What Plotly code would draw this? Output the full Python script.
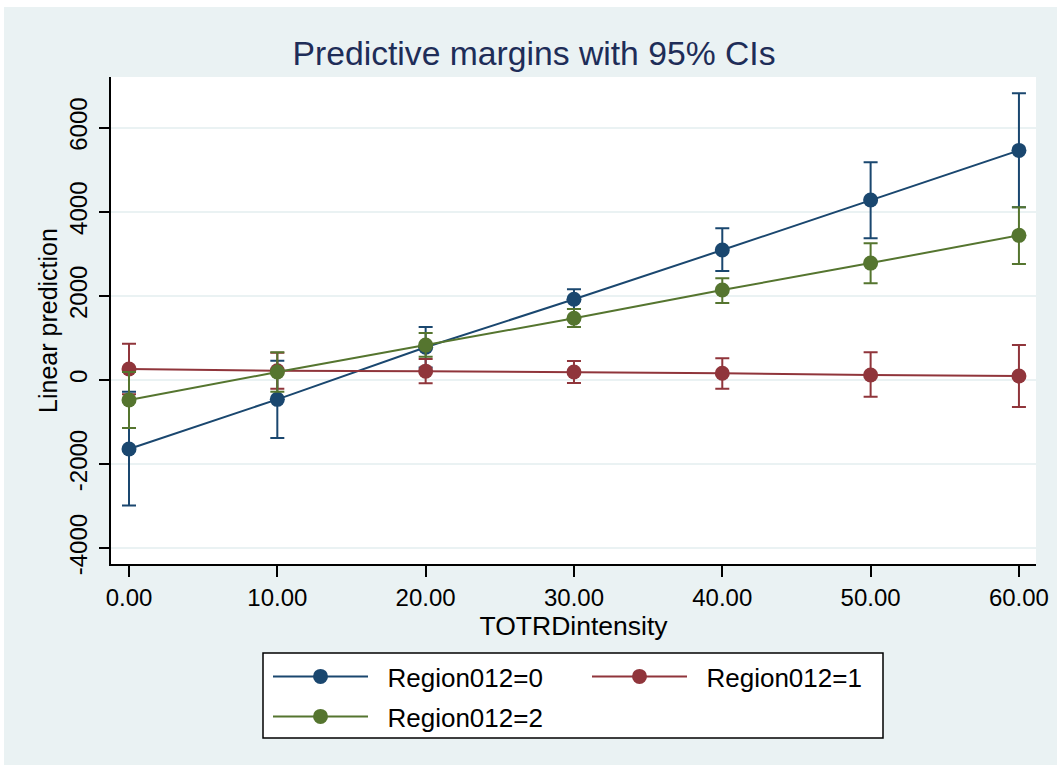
import plotly.graph_objects as go

x_vals = [0, 10, 20, 30, 40, 50, 60]
x_ticks = [0, 10, 20, 30, 40, 50, 60]
x_ticklabels = ["0.00", "10.00", "20.00", "30.00", "40.00", "50.00", "60.00"]
y_ticks = [-4000, -2000, 0, 2000, 4000, 6000]
y_ticklabels = ["-4000", "-2000", "0", "2000", "4000", "6000"]

names = ["Region012=0", "Region012=1", "Region012=2"]
r0_mean = [-1640, -460, 780, 1920, 3090, 4280, 5460]
r0_lo = [-2985, -1380, 300, 1690, 2590, 3370, 4110]
r0_hi = [-278, 460, 1260, 2160, 3610, 5180, 6820]
r1_mean = [260, 220, 210, 190, 160, 120, 95]
r1_lo = [-340, -210, -80, -70, -210, -400, -640]
r1_hi = [860, 650, 500, 450, 520, 660, 830]
r2_mean = [-475, 190, 830, 1470, 2140, 2780, 3440]
r2_lo = [-1140, -280, 550, 1260, 1830, 2300, 2760]
r2_hi = [190, 660, 1120, 1690, 2420, 3250, 4110]

colors = ["#1a476f", "#90353b", "#55752f"]

W, H = 1057, 770
L, R, T, B = 111, 1036, 77, 564


def px(xp):
    return (xp - L) / (R - L)


def py(yp):
    return (B - yp) / (B - T)


FONT = "Liberation Sans, Arial, sans-serif"

fig = go.Figure()
series = [(r0_mean, r0_lo, r0_hi), (r1_mean, r1_lo, r1_hi), (r2_mean, r2_lo, r2_hi)]
for i, (m, lo, hi) in enumerate(series):
    fig.add_trace(go.Scatter(
        x=x_vals, y=m, mode="lines+markers", name="&nbsp;&nbsp;" + names[i],
        line=dict(color=colors[i], width=2),
        marker=dict(color=colors[i], size=15, symbol="circle"),
        error_y=dict(type="data", symmetric=False,
                     array=[h - v for h, v in zip(hi, m)],
                     arrayminus=[v - l for v, l in zip(m, lo)],
                     color=colors[i], thickness=2, width=7),
        legend="legend" if i < 2 else "legend2",
    ))

fig.update_layout(
    width=W, height=H,
    margin=dict(l=L, r=W - R, t=T, b=H - B, pad=0, autoexpand=False),
    paper_bgcolor="#eaf2f3",
    plot_bgcolor="white",
    font=dict(family=FONT, color="black", size=24),
    title=dict(text="Predictive margins with 95% CIs", x=534 / W, xanchor="center",
               y=1 - 53 / H, yanchor="middle",
               font=dict(family=FONT, size=33.7, color="#1e2d58")),
    xaxis=dict(range=[-1.2135, 61.15], tickmode="array", tickvals=x_ticks,
               ticktext=x_ticklabels, showgrid=False, zeroline=False,
               showline=True, linecolor="black", linewidth=1.5, automargin=False,
               ticks="outside", ticklen=11, tickwidth=1.5, tickcolor="black",
               tickfont=dict(size=24),
               title=dict(text="TOTRDintensity", font=dict(size=26.5), standoff=6)),
    yaxis=dict(range=[-4376, 7206], tickmode="array", tickvals=y_ticks,
               ticktext=y_ticklabels,
               showgrid=True, gridcolor="#eaf2f3", gridwidth=2, zeroline=False,
               showline=True, linecolor="black", linewidth=1.5, automargin=False,
               ticks="outside", ticklen=10, tickwidth=1.5, tickcolor="black",
               tickangle=-90, tickfont=dict(size=24), ticklabelstandoff=3,
               title=dict(text="Linear prediction", font=dict(size=25), standoff=0)),
    legend=dict(orientation="h", x=px(268), xanchor="left", y=py(653), yanchor="top",
                bgcolor="rgba(0,0,0,0)", borderwidth=0, itemwidth=95,
                entrywidth=209, entrywidthmode="pixels",
                font=dict(size=26), itemclick=False, itemdoubleclick=False),
    legend2=dict(orientation="h", x=px(268), xanchor="left", y=py(693), yanchor="top",
                 bgcolor="rgba(0,0,0,0)", borderwidth=0, itemwidth=95,
                 font=dict(size=26), itemclick=False, itemdoubleclick=False),
    showlegend=True,
    shapes=[
        dict(type="rect", xref="paper", yref="paper", x0=px(263), x1=px(883),
             y0=py(738), y1=py(653), line=dict(color="black", width=1.5),
             fillcolor="white", layer="below"),
        dict(type="rect", xref="paper", yref="paper", x0=px(0), x1=px(W),
             y0=py(7), y1=py(0), line=dict(width=0), fillcolor="white", layer="below"),
        dict(type="rect", xref="paper", yref="paper", x0=px(0), x1=px(4),
             y0=py(H), y1=py(0), line=dict(width=0), fillcolor="white", layer="below"),
        dict(type="rect", xref="paper", yref="paper", x0=px(0), x1=px(W),
             y0=py(H), y1=py(765), line=dict(width=0), fillcolor="white", layer="below"),
    ],
)

fig.write_html("out.html")
